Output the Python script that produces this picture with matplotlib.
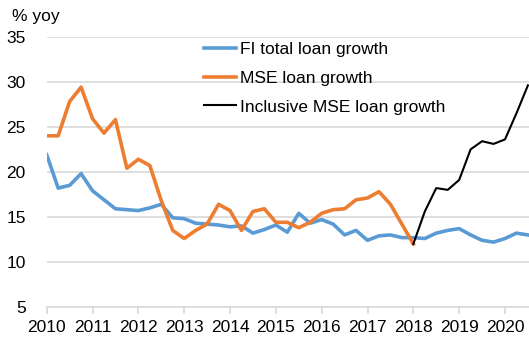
import numpy as np
import matplotlib
matplotlib.use('Agg')
import matplotlib.pyplot as plt

plt.rcParams['font.family'] = ['Liberation Sans', 'DejaVu Sans']

# quarterly observations, first quarter = 2010
fi_total = [21.9, 18.2, 18.5, 19.8, 17.9, 16.9, 15.9, 15.8, 15.7, 16.0,
            16.4, 14.9, 14.8, 14.3, 14.2, 14.1, 13.9, 14.0, 13.2, 13.6,
            14.1, 13.3, 15.4, 14.3, 14.7, 14.2, 13.0, 13.5, 12.4, 12.9,
            13.0, 12.7, 12.7, 12.6, 13.2, 13.5, 13.7, 13.0, 12.4, 12.2,
            12.6, 13.2, 13.0]
mse = [24.0, 24.0, 27.8, 29.4, 25.9, 24.3, 25.8, 20.4, 21.4, 20.7,
       16.8, 13.5, 12.6, 13.5, 14.2, 16.4, 15.7, 13.5, 15.6, 15.9,
       14.4, 14.4, 13.8, 14.4, 15.4, 15.8, 15.9, 16.9, 17.1, 17.8,
       16.4, 14.2, 12.0]
inclusive_mse = [12.0, 15.6, 18.2, 18.0, 19.1, 22.5, 23.4, 23.1, 23.6,
                 26.5, 29.6]
inclusive_start = 32  # first quarter of the inclusive series (2018)

years = list(range(2010, 2021))

x_fi = 2010 + np.arange(len(fi_total)) * 0.25
x_mse = 2010 + np.arange(len(mse)) * 0.25
x_inc = 2010 + (inclusive_start + np.arange(len(inclusive_mse))) * 0.25

fig = plt.figure(figsize=(5.29, 3.38), dpi=100)
ax = fig.add_axes([46.7 / 529, 31 / 338, 1 - 46.7 / 529, 270.3 / 338])

ax.plot(x_fi, fi_total, color='#5B9BD5', lw=2.6, label='FI total loan growth',
        solid_joinstyle='round', zorder=3)
ax.plot(x_mse, mse, color='#ED7D31', lw=2.6, label='MSE loan growth',
        solid_joinstyle='round', zorder=3)
ax.plot(x_inc, inclusive_mse, color='black', lw=1.5,
        label='Inclusive MSE loan growth', zorder=4)

ax.set_xlim(2010, 2010 + (529 - 46.7) / 45.83)
ax.set_ylim(5, 35)
ax.set_yticks(range(5, 36, 5))
ax.set_xticks(years)
ax.yaxis.grid(True, color='#d9d9d9', lw=1.2)
ax.set_axisbelow(True)

for side in ['left', 'right', 'top']:
    ax.spines[side].set_visible(False)
ax.spines['bottom'].set_color('#d9d9d9')
ax.spines['bottom'].set_linewidth(1.2)

ax.tick_params(axis='y', length=0, pad=15, labelsize=12.5, labelcolor='black')
ax.tick_params(axis='x', length=5, width=1.2, color='#d9d9d9', pad=4,
               labelsize=12.5, labelcolor='black')

fig.text(12 / 529, 1 - 17 / 338, '% yoy', fontsize=12.5, va='center', ha='left')

ax.legend(loc='upper left', bbox_to_anchor=(204 / 529, 1 - 42 / 338),
          bbox_transform=fig.transFigure, frameon=False, fontsize=12.5,
          handlelength=1.85, handletextpad=0.2, labelspacing=0.78,
          borderpad=0, borderaxespad=0)

fig.savefig('out.png', dpi=100)
